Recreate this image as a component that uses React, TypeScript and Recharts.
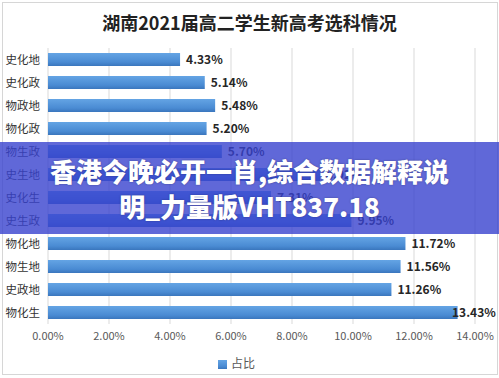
import { BarChart, Bar, XAxis, YAxis, CartesianGrid, Legend, LabelList } from "recharts";

const categories = ["史化地", "史化政", "物政地", "物化政", "物生政", "史生地", "史化生", "史生政", "物化地", "物生地", "史政地", "物化生"];
const shares = [4.33, 5.14, 5.48, 5.2, 5.7, 8.92, 7.31, 9.95, 11.72, 11.56, 11.26, 13.43];
const xTicks = [0, 2, 4, 6, 8, 10, 12, 14];

const title = "湖南2021届高二学生新高考选科情况";
const bannerLines = ["香港今晚必开一肖,综合数据解释说", "明_力量版VHT837.18"];

const data = categories.map((name, i) => ({ name, value: shares[i] }));

const font = '"Noto Sans CJK SC", "Noto Sans", sans-serif';

// value label to the right of the bar, pulled back when it would run off the frame
const ValueLabel = (props: any) => {
  const { x, y, width, height, value } = props;
  const text = Number(value).toFixed(2) + "%";
  const tw = text.length * 7;
  let tx = x + width + 6;
  if (tx + tw > 494) tx = 494 - tw;
  return (
    <text x={tx} y={y + height / 2} dy="0.35em" fontSize={12} fontWeight={700} fill="#262626" fontFamily={font}>
      {text}
    </text>
  );
};

export default function App() {
  return (
    <div style={{ position: "absolute", left: 0, top: 0, width: 499, height: 378, background: "#fff", fontFamily: font }}>
      <div style={{ position: "absolute", left: 2, top: 2, width: 494, height: 371, border: "1px solid #d6d6d6" }} />
      <div style={{ position: "absolute", top: 9, width: 499, textAlign: "center", fontSize: 18, fontWeight: 700, color: "#222" }}>
        {title}
      </div>
      <div style={{ position: "absolute", left: 0, top: 0 }}>
        <BarChart
          width={499}
          height={378}
          data={data}
          layout="vertical"
          margin={{ top: 48, right: 24, left: 8, bottom: 7 }}
          barSize={13}
          style={{ overflow: "visible" }}
        >
          <defs>
            <linearGradient id="barFill" x1="0" y1="0" x2="0" y2="1">
              <stop offset="0%" stopColor="#64a4e4" />
              <stop offset="70%" stopColor="#4a8bd3" />
              <stop offset="100%" stopColor="#3a76bd" />
            </linearGradient>
          </defs>
          <CartesianGrid horizontal={false} stroke="#d9d9d9" />
          <XAxis
            type="number"
            domain={[0, 14]}
            ticks={xTicks}
            tickFormatter={(v: number) => v.toFixed(2) + "%"}
            axisLine={false}
            tickLine={false}
            tick={{ fontSize: 11, fill: "#595959", fontFamily: font }}
            interval={0}
          />
          <YAxis
            type="category"
            dataKey="name"
            width={40}
            axisLine={false}
            tickLine={false}
            tick={{ fontSize: 11.5, fill: "#333", fontFamily: font }}
            interval={0}
          />
          <Legend
            verticalAlign="bottom"
            iconType="square"
            iconSize={9}
            wrapperStyle={{ fontSize: 12, color: "#595959", fontFamily: font }}
            formatter={() => <span style={{ color: "#595959" }}>占比</span>}
          />
          <Bar dataKey="value" name="占比" fill="url(#barFill)" isAnimationActive={false} legendType="square">
            <LabelList dataKey="value" content={ValueLabel} />
          </Bar>
        </BarChart>
      </div>
      <div
        style={{
          position: "absolute",
          left: 0,
          top: 142,
          width: 499,
          height: 92,
          background: "rgba(56,66,206,0.8)",
          color: "#fff",
          fontWeight: 900,
          fontSize: 26,
          textAlign: "center",
          lineHeight: "35px",
          paddingTop: 11,
          boxSizing: "border-box",
          textShadow: "0 0 2px rgba(0,0,0,0.35)",
        }}
      >
        <div>{bannerLines[0]}</div>
        <div>{bannerLines[1]}</div>
      </div>
    </div>
  );
}
